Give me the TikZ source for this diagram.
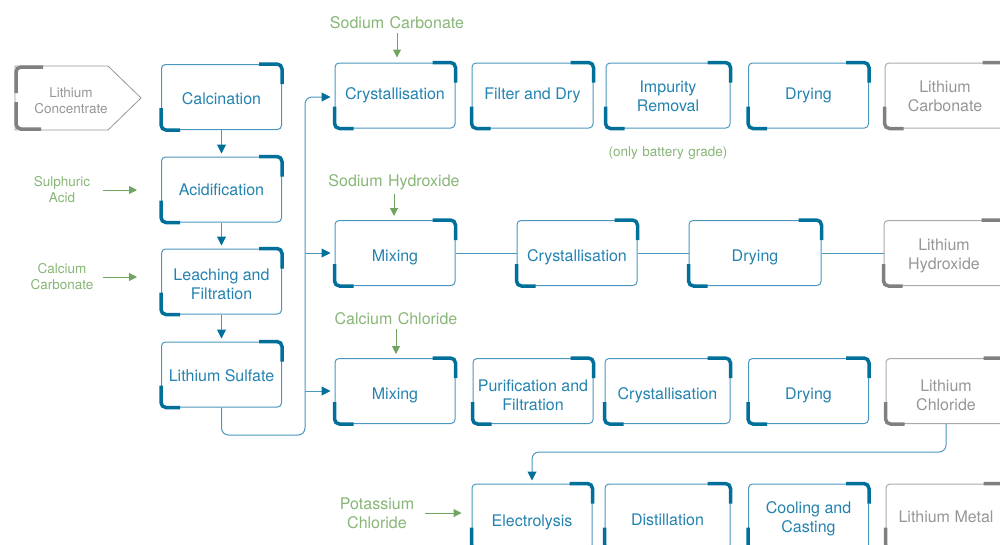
\documentclass[tikz,border=0pt]{standalone}
\usepackage{fontspec}
\setmainfont{TeX Gyre Heros}
\usepackage{xcolor}
\usetikzlibrary{arrows.meta}
\definecolor{stepline}{RGB}{75,150,190}
\definecolor{stepdark}{RGB}{0,112,155}
\definecolor{steptext}{RGB}{35,130,175}
\definecolor{prodline}{RGB}{170,170,170}
\definecolor{proddark}{RGB}{128,128,128}
\definecolor{prodtext}{RGB}{150,150,150}
\definecolor{feedtext}{RGB}{135,182,118}
\definecolor{feedline}{RGB}{112,165,95}
\newcommand{\dropby}[2]{\raisebox{-#1}[\height][\depth]{#2}}

\begin{document}
\begin{tikzpicture}[x=1pt,y=-1pt]
\tikzstyle{every node}+=[font=\fontsize{16}{19}\selectfont, align=center]
\tikzstyle{stage}=[draw=stepline, line width=1pt, rounded corners=4pt, minimum width=120, minimum height=65, inner sep=2pt, text=steptext]
\tikzstyle{product}=[stage, draw=prodline, text=prodtext]
\tikzstyle{small}=[font=\fontsize{13.5}{16}\selectfont]
\tikzstyle{feedlabel}=[text=feedtext, text width=78, inner sep=0pt]
\tikzstyle{flow}=[draw=stepline, line width=1pt, -{Triangle[length=9pt,width=9pt,color=stepdark]}, shorten >=3pt]
\tikzstyle{link}=[draw=stepline, line width=1pt]
\tikzstyle{feedarrow}=[draw=feedline, line width=1pt, -{Triangle[length=8pt,width=8pt]}]
\tikzstyle{bracket}=[line width=3.5pt, rounded corners=5pt]
\useasboundingbox (0,0) rectangle (1000,544);
\clip (0,0) rectangle (1000,544);
% feed stock
\draw [prodtext, line width=0.8pt] (15,66) -- (108,66) -- (141,98) -- (108,130) -- (15,130) -- cycle;
\draw [bracket, proddark] (43,67) -- (16,67) -- (16,93);
\draw [bracket, proddark] (16,102) -- (16,129) -- (41,129);
\node [small, text=prodtext] (conc) at (71,101) {Lithium\\Concentrate};
% first column
\node [stage] (calc) at (221.5,97) {\dropby{2pt}{Calcination}};
\node [stage] (acid) at (221.5,189.5) {Acidification};
\node [stage] (leach) at (221.5,281.5) {\dropby{3pt}{Leaching and}\\\dropby{3pt}{Filtration}};
\node [stage] (sulf) at (221.5,374.5) {\dropby{1pt}{Lithium Sulfate}};
\node [feedlabel, small] (sulph) at (62,190) {Sulphuric\\Acid};
\node [feedlabel, small] (calcc) at (62,277) {Calcium\\Carbonate};
% carbonate route
\node [stage] (cry1) at (395,95.5) {Crystallisation};
\node [stage, minimum width=121] (filt) at (532.5,95.5) {Filter and Dry};
\node [stage, minimum width=124] (impur) at (668,95.5) {\dropby{1pt}{Impurity}\\\dropby{1pt}{Removal}};
\node [stage] (dry1) at (808.5,95.5) {Drying};
\node [product] (lico) at (945,95.5) {\dropby{1pt}{Lithium}\\\dropby{1pt}{Carbonate}};
\node [feedlabel, text width=150] (sodc) at (397,23) {Sodium Carbonate};
\node [feedlabel, small, text width=150] (grade) at (668,153) {(only battery grade)};
% hydroxide route
\node [stage] (mix2) at (395,253) {\dropby{4pt}{Mixing}};
\node [stage] (cry2) at (577,253) {\dropby{4pt}{Crystallisation}};
\node [stage, minimum width=132] (dry2) at (755,253) {\dropby{4pt}{Drying}};
\node [product] (lioh) at (944,253) {\dropby{2.5pt}{Lithium}\\\dropby{2.5pt}{Hydroxide}};
\node [feedlabel, text width=150] (sodh) at (394,182) {Sodium Hydroxide};
% chloride route
\node [stage] (mix3) at (395,391) {\dropby{4pt}{Mixing}};
\node [stage] (puri) at (533,391) {\dropby{4pt}{Purification and}\\\dropby{4pt}{Filtration}};
\node [stage, minimum width=125] (cry3) at (667.5,391) {\dropby{4pt}{Crystallisation}};
\node [stage] (dry3) at (808.5,391) {\dropby{4pt}{Drying}};
\node [product] (licl) at (946,391) {\dropby{4pt}{Lithium}\\\dropby{4pt}{Chloride}};
\node [feedlabel, text width=150] (cacl) at (396,319) {Calcium Chloride};
% metal route
\node [stage] (elec) at (532,516.5) {\dropby{6pt}{Electrolysis}};
\node [stage, minimum width=125] (dist) at (667.5,516.5) {\dropby{3pt}{Distillation}};
\node [stage] (cool) at (808.5,516.5) {\dropby{2.5pt}{Cooling and}\\\dropby{2.5pt}{Casting}};
\node [product] (limet) at (946,516.5) {Lithium Metal};
\node [feedlabel, text width=80] (kcl) at (377,513) {Potassium\\Chloride};
% corner marks
\foreach \n in {calc,acid,leach,sulf,cry1,filt,impur,dry1,mix2,cry2,dry2,mix3,puri,cry3,dry3,elec,dist,cool} {
  \draw [bracket, stepdark] ([xshift=-23pt]\n.north east) -- (\n.north east) -- ([yshift=-20pt]\n.north east);
  \draw [bracket, stepdark] ([yshift=22pt]\n.south west) -- (\n.south west) -- ([xshift=19pt]\n.south west);
}
\foreach \n in {lico,lioh,licl,limet} {
  \draw [bracket, proddark] ([xshift=-23pt]\n.north east) -- (\n.north east) -- ([yshift=-20pt]\n.north east);
  \draw [bracket, proddark] ([yshift=22pt]\n.south west) -- (\n.south west) -- ([xshift=19pt]\n.south west);
}
% connectors
\draw [flow] (calc) -- (acid);
\draw [flow] (acid) -- (leach);
\draw [flow] (leach) -- (sulf);
\coordinate (bus) at (305,435);
\draw [flow, rounded corners=7pt, shorten >=4pt] (sulf.south) |- (bus) |- ([yshift=-1.5pt]cry1.west);
\draw [flow, shorten >=4pt] (bus |- mix2.west) -- (mix2.west);
\draw [flow, shorten >=4pt] (bus |- mix3.west) -- (mix3.west);
\draw [link] (mix2) -- (cry2) -- (dry2) -- (lioh);
\draw [flow, rounded corners=7pt] (licl.south) -- ++(0,28) -| (elec.north);
\draw [feedarrow, shorten <=2pt, shorten >=24pt] (sulph.east) -- (sulph.east -| acid.west);
\draw [feedarrow, shorten <=2pt, shorten >=24pt] (calcc.east) -- (calcc.east -| leach.west);
\draw [feedarrow, shorten <=4pt, shorten >=5pt] (sodc.south) -- (sodc.south |- cry1.north);
\draw [feedarrow, shorten <=4pt, shorten >=4pt] (sodh.south) -- (sodh.south |- mix2.north);
\draw [feedarrow, shorten <=4pt, shorten >=4pt] (cacl.south) -- (cacl.south |- mix3.north);
\draw [feedarrow, shorten <=8pt, shorten >=10pt] (kcl.east) -- (kcl.east -| elec.west);
\end{tikzpicture}
\end{document}
